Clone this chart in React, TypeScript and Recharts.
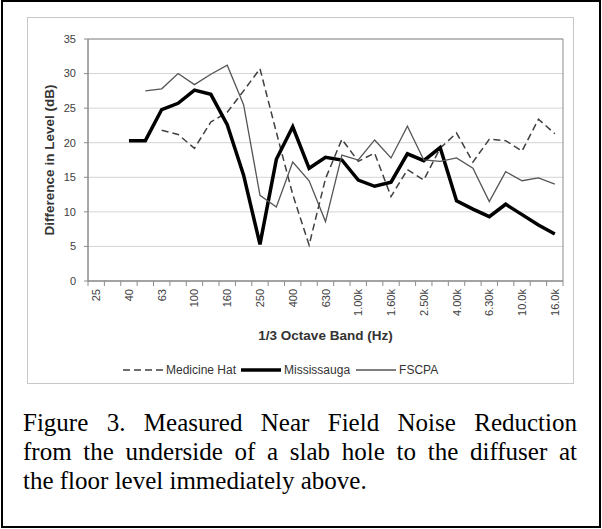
import { CartesianGrid, Line, LineChart, ReferenceArea, XAxis, YAxis } from "recharts";

const bands = [
  "25", "31.5", "40", "50", "63", "80", "100", "125", "160", "200", "250", "315", "400", "500", "630",
  "800", "1.00k", "1.25k", "1.60k", "2.00k", "2.50k", "3.15k", "4.00k", "5.00k", "6.30k", "8.00k",
  "10.0k", "12.5k", "16.0k",
];

const medicineHat = [
  null, null, null, null, 21.8, 21.2, 19.2, 23.0, 24.4, 27.5, 30.7, 21.5, 12.5, 5.2, 14.8,
  20.5, 17.3, 18.5, 12.2, 16.1, 14.6, 19.2, 21.4, 17.2, 20.5, 20.3, 18.8, 23.4, 21.3,
];

const mississauga = [
  null, null, 20.3, 20.3, 24.8, 25.7, 27.6, 27.0, 22.6, 15.3, 5.3, 17.6, 22.3, 16.3, 17.9,
  17.5, 14.6, 13.7, 14.3, 18.4, 17.4, 19.3, 11.6, 10.4, 9.3, 11.1, 9.6, 8.1, 6.8,
];

const fscpa = [
  null, null, null, 27.5, 27.8, 30.0, 28.4, 29.9, 31.2, 25.5, 12.4, 10.7, 17.2, 14.5, 8.6,
  18.2, 17.5, 20.4, 17.8, 22.4, 17.5, 17.3, 17.8, 16.3, 11.5, 15.8, 14.5, 14.9, 14.0,
];

const yTicks = [0, 5, 10, 15, 20, 25, 30, 35];

const captionLines = [
  "Figure 3. Measured Near Field Noise Reduction",
  "from the underside of a slab hole to the diffuser at",
  "the floor level immediately above.",
];

const data = bands.map((band, i) => ({
  idx: i,
  band,
  medicineHat: medicineHat[i],
  mississauga: mississauga[i],
  fscpa: fscpa[i],
}));

// labels sit on every other band, tick marks sit between bands (Excel style)
const xTicks: number[] = [];
for (let i = 0; i < bands.length; i++) {
  xTicks.push(i - 0.5, i);
}
xTicks.push(bands.length - 0.5);

function BandTick(props: any) {
  const { x, y, payload } = props;
  const v = payload.value as number;
  if (!Number.isInteger(v)) {
    return <line x1={x} x2={x} y1={y - 8} y2={y - 3} stroke="#8c8c8c" />;
  }
  if (v % 2 !== 0) return <g />;
  return (
    <text
      transform={`translate(${x},${y}) rotate(-90)`}
      textAnchor="end"
      dominantBaseline="central"
      fontSize={11}
      fill="#404040"
    >
      {bands[v]}
    </text>
  );
}

function LegendItem({
  label,
  dash,
  width,
  color,
  gapAfter,
}: {
  label: string;
  dash?: string;
  width: number;
  color: string;
  gapAfter: number;
}) {
  return (
    <span style={{ display: "inline-flex", alignItems: "center", marginRight: gapAfter }}>
      <svg width={40} height={8}>
        <line x1={0} x2={40} y1={4} y2={4} stroke={color} strokeWidth={width} strokeDasharray={dash} />
      </svg>
      <span style={{ marginLeft: 3 }}>{label}</span>
    </span>
  );
}

export default function App() {
  return (
    <div
      style={{
        position: "absolute",
        left: 0,
        top: 0,
        width: 602,
        height: 529,
        background: "#fff",
        fontFamily: "'Liberation Sans', Arial, sans-serif",
      }}
    >
      <div
        style={{
          position: "absolute",
          left: 1,
          top: 0,
          width: 600,
          height: 528,
          border: "2px solid #000",
          boxSizing: "border-box",
        }}
      />
      <div
        style={{
          position: "absolute",
          left: 27,
          top: 17,
          width: 547,
          height: 367,
          border: "1px solid #c8c8c8",
          boxSizing: "border-box",
        }}
      />
      <div style={{ position: "absolute", left: 0, top: 0 }}>
        <LineChart width={602} height={529} data={data} margin={{ top: 39, right: 39, left: 28, bottom: 188 }}>
          <CartesianGrid vertical={false} stroke="#d4d4d4" />
          <XAxis
            dataKey="idx"
            type="number"
            domain={[-0.5, bands.length - 0.5]}
            ticks={xTicks}
            interval={0}
            height={60}
            tickSize={5}
            tickMargin={3}
            tickLine={false}
            axisLine={{ stroke: "#8c8c8c" }}
            tick={<BandTick />}
            label={{
              value: "1/3 Octave Band (Hz)",
              position: "insideBottom",
              offset: 1,
              fontSize: 13.5,
              fontWeight: "bold",
              fill: "#333",
            }}
          />
          <YAxis
            domain={[0, 35]}
            ticks={yTicks}
            width={60}
            tickSize={4}
            tickMargin={8}
            axisLine={{ stroke: "#8c8c8c" }}
            tickLine={{ stroke: "#8c8c8c" }}
            tick={{ fontSize: 11, fill: "#404040" }}
            label={{
              value: "Difference in Level (dB)",
              angle: -90,
              position: "center",
              dx: -9,
              fontSize: 13.5,
              fontWeight: "bold",
              fill: "#333",
            }}
          />
          <ReferenceArea x1={-0.5} x2={bands.length - 0.5} y1={0} y2={35} fill="none" stroke="#8c8c8c" />
          <Line
            type="linear"
            dataKey="medicineHat"
            stroke="#404040"
            strokeWidth={1.5}
            strokeDasharray="7 4"
            dot={false}
            isAnimationActive={false}
          />
          <Line
            type="linear"
            dataKey="mississauga"
            stroke="#000"
            strokeWidth={3.5}
            dot={false}
            isAnimationActive={false}
          />
          <Line
            type="linear"
            dataKey="fscpa"
            stroke="#555"
            strokeWidth={1.3}
            dot={false}
            isAnimationActive={false}
          />
        </LineChart>
      </div>
      <div
        style={{
          position: "absolute",
          left: 123,
          top: 363,
          fontSize: 12,
          color: "#333",
          display: "flex",
          alignItems: "center",
          whiteSpace: "nowrap",
        }}
      >
        <LegendItem label="Medicine Hat" dash="7 4" width={1.5} color="#404040" gapAfter={5} />
        <LegendItem label="Mississauga" width={3.5} color="#000" gapAfter={6} />
        <LegendItem label="FSCPA" width={1.3} color="#555" gapAfter={0} />
      </div>
      <div
        style={{
          position: "absolute",
          left: 23,
          top: 408,
          width: 554,
          fontFamily: "'Liberation Serif', 'Times New Roman', serif",
          fontSize: 25,
          lineHeight: "29px",
          color: "#000",
        }}
      >
        {captionLines.map((line, i) => (
          <div
            key={i}
            style={{
              textAlign: i < captionLines.length - 1 ? "justify" : "left",
              textAlignLast: i < captionLines.length - 1 ? "justify" : "left",
              whiteSpace: "nowrap",
            }}
          >
            {line}
          </div>
        ))}
      </div>
    </div>
  );
}
